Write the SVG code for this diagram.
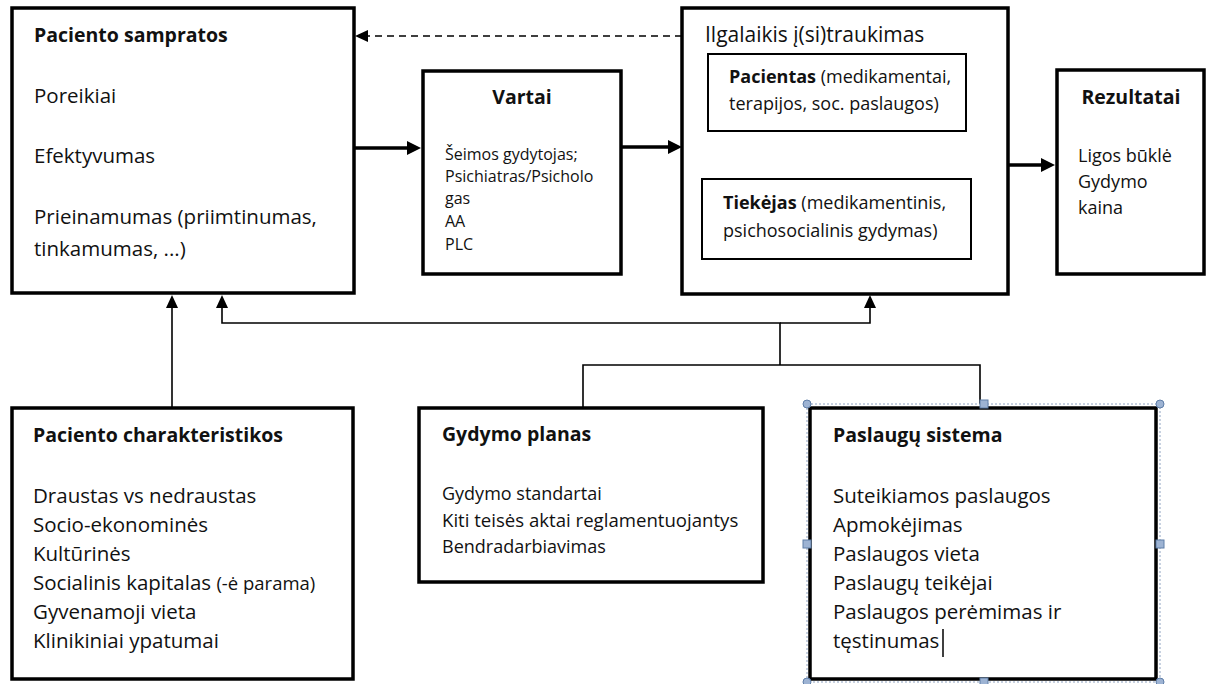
<svg xmlns="http://www.w3.org/2000/svg" width="1214" height="684" viewBox="0 0 1214 684">
<style>
.box{fill:#fff;stroke:#000;stroke-width:3.5}
.inner{fill:#fff;stroke:#000;stroke-width:2}
text{font-family:"Open Sans","Liberation Sans",sans-serif;fill:#111}
.h{font-weight:bold;font-size:19.5px}
.t{font-size:20.5px}
.s{font-size:16px}
.m{font-size:18px}
.thick{stroke:#000;stroke-width:3.5;fill:none}
.thin{stroke:#000;stroke-width:1.6;fill:none}
.dash{stroke:#000;stroke-width:1.5;stroke-dasharray:7 5;fill:none}
.handle{fill:#9DB3D3;stroke:#5F7EA8;stroke-width:1}
.sel{fill:none;stroke:#8FA3C2;stroke-width:1;stroke-dasharray:2 2}
</style>
<defs>
<marker id="bigHead" markerUnits="userSpaceOnUse" markerWidth="16" markerHeight="16" refX="6" refY="7" orient="auto">
<path d="M0,0 L14,7 L0,14 z" fill="#000"/>
</marker>
<marker id="smallHead" markerUnits="userSpaceOnUse" markerWidth="14" markerHeight="14" refX="6" refY="6" orient="auto-start-reverse">
<path d="M0,0 L13,6 L0,12 z" fill="#000"/>
</marker>
</defs>

<g id="connectors">
<line class="dash" x1="682" y1="36" x2="362" y2="36" marker-end="url(#smallHead)"/>
<line class="thick" x1="354" y1="148" x2="413" y2="148" marker-end="url(#bigHead)"/>
<line class="thick" x1="621" y1="147" x2="674" y2="147" marker-end="url(#bigHead)"/>
<line class="thick" x1="1008" y1="165" x2="1047" y2="165" marker-end="url(#bigHead)"/>
<line class="inner" x1="824" y1="138" x2="824" y2="172" stroke-width="2" marker-start="url(#smallHead)" marker-end="url(#smallHead)"/>
<line class="thin" x1="172" y1="408" x2="172" y2="302" marker-end="url(#smallHead)"/>
<path class="thin" d="M780,365 V323 H222 V302" marker-end="url(#smallHead)"/>
<path class="thin" d="M780,323 H870 V302" marker-end="url(#smallHead)"/>
<path class="thin" d="M583,408 V365 H980 V404"/>
</g>

<g id="paciento-sampratos">
<rect class="box" x="12" y="8" width="342" height="285"/>
<text class="h" x="34" y="42">Paciento sampratos</text>
<text class="t" x="34" y="103">Poreikiai</text>
<text class="t" x="34" y="163">Efektyvumas</text>
<text class="t" x="34" y="224">Prieinamumas (priimtinumas,</text>
<text class="t" x="34" y="256">tinkamumas, ...)</text>
</g>

<g id="vartai">
<rect class="box" x="423" y="71" width="198" height="203"/>
<text class="h" x="522" y="104" text-anchor="middle">Vartai</text>
<text class="s" x="445" y="160">Šeimos gydytojas;</text>
<text class="s" x="445" y="182">Psichiatras/Psicholo</text>
<text class="s" x="445" y="204">gas</text>
<text class="s" x="445" y="227">AA</text>
<text class="s" x="445" y="250">PLC</text>
</g>

<g id="ilgalaikis-itraukimas">
<rect class="box" x="682" y="8" width="326" height="286"/>
<text class="t" x="705" y="42" style="font-size:21px">Ilgalaikis į(si)traukimas</text>
</g>

<g id="pacientas">
<rect class="inner" x="708" y="54" width="258" height="77"/>
<text class="m" x="729" y="83"><tspan font-weight="bold">Pacientas</tspan> (medikamentai,</text>
<text class="m" x="729" y="110">terapijos, soc. paslaugos)</text>
</g>

<g id="tiekejas">
<rect class="inner" x="702" y="179" width="269" height="80"/>
<text class="m" x="723" y="209"><tspan font-weight="bold">Tiekėjas</tspan> (medikamentinis,</text>
<text class="m" x="723" y="237">psichosocialinis gydymas)</text>
</g>

<g id="rezultatai">
<rect class="box" x="1057" y="70" width="147" height="204"/>
<text class="h" x="1131" y="104" text-anchor="middle">Rezultatai</text>
<text class="m" x="1078" y="162">Ligos būklė</text>
<text class="m" x="1078" y="188">Gydymo</text>
<text class="m" x="1078" y="214">kaina</text>
</g>

<g id="paciento-charakteristikos">
<rect class="box" x="12" y="408" width="341" height="271"/>
<text class="h" x="33" y="442">Paciento charakteristikos</text>
<text class="t" x="33" y="503">Draustas vs nedraustas</text>
<text class="t" x="33" y="532">Socio-ekonominės</text>
<text class="t" x="33" y="561">Kultūrinės</text>
<text class="t" x="33" y="590">Socialinis kapitalas <tspan style="font-size:18.5px">(-ė parama)</tspan></text>
<text class="t" x="33" y="619">Gyvenamoji vieta</text>
<text class="t" x="33" y="648">Klinikiniai ypatumai</text>
</g>

<g id="gydymo-planas">
<rect class="box" x="419" y="408" width="344" height="174"/>
<text class="h" x="442" y="441">Gydymo planas</text>
<text class="m" x="442" y="500">Gydymo standartai</text>
<text class="m" x="442" y="527" style="font-size:18.6px">Kiti teisės aktai reglamentuojantys</text>
<text class="m" x="442" y="553">Bendradarbiavimas</text>
</g>

<g id="paslaugu-sistema">
<rect class="box" x="810" y="408" width="346" height="271"/>
<rect class="sel" x="807" y="404" width="353" height="278"/>
<circle class="handle" cx="807" cy="404" r="4"/>
<circle class="handle" cx="1160" cy="404" r="4"/>
<circle class="handle" cx="807" cy="682" r="4"/>
<circle class="handle" cx="1160" cy="682" r="4"/>
<rect class="handle" x="980" y="400" width="8" height="8"/>
<rect class="handle" x="980" y="678" width="8" height="8"/>
<rect class="handle" x="803" y="540" width="8" height="8"/>
<rect class="handle" x="1156" y="540" width="8" height="8"/>
<text class="h" x="833" y="442">Paslaugų sistema</text>
<text class="t" x="833" y="503">Suteikiamos paslaugos</text>
<text class="t" x="833" y="532">Apmokėjimas</text>
<text class="t" x="833" y="561">Paslaugos vieta</text>
<text class="t" x="833" y="590">Paslaugų teikėjai</text>
<text class="t" x="833" y="619">Paslaugos perėmimas ir</text>
<text class="t" x="833" y="648">tęstinumas</text>
<line x1="943" y1="629" x2="943" y2="657" stroke="#000" stroke-width="1.5"/>
</g>
</svg>
